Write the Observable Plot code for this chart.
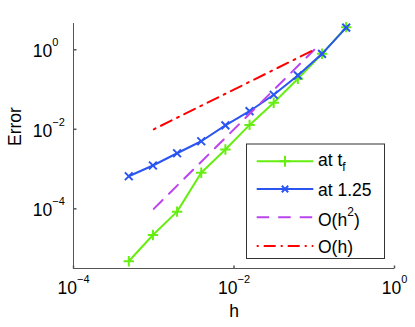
<!DOCTYPE html>
<html><head><meta charset="utf-8">
<script src="https://cdn.jsdelivr.net/npm/d3@7"></script>
<script src="https://cdn.jsdelivr.net/npm/@observablehq/plot@0.6"></script>
<style>
body{margin:0;background:#fff;}
#wrap{position:relative;width:415px;height:327px;font-family:"Liberation Sans",Arial,Helvetica,sans-serif;}
#wrap svg{display:block;}
#legend{position:absolute;left:0;top:0;pointer-events:none;}
</style></head><body><div id="wrap"></div>
<script>
// ---- data ----
const hValues = [0.25, 0.125, 0.0625, 0.03125, 0.015625, 0.0078125, 0.00390625, 0.001953125, 0.0009765625, 0.00048828125];
const errAtTf = [3.7, 0.79, 0.186, 0.0465, 0.0129, 0.0031, 8.1e-4, 8.5e-5, 2.2e-5, 4.8e-6];
const errAt125 = [3.6, 0.79, 0.226, 0.0738, 0.0285, 0.0125, 0.0050, 0.0025, 0.00123, 6.6e-4];
const refH = [1e-3, 1e-1];
const refOh2 = [1e-4, 1];
const refOh = [1e-2, 1];
const xTicks = [1e-4, 1e-2, 1];
const yTicks = [1e-4, 1e-2, 1];
const xLabel = "h";
const yLabel = "Error";
const seriesLabels = ["at t_f", "at 1.25", "O(h^2)", "O(h)"];
const colors = ["#66ee11", "#2a55f0", "#bb44ee", "#ff0000"];

const xDomain = [1e-4, 1];
const yDomain = [Math.pow(10, -5.5), Math.pow(10, 0.66)];
const axisColor = "#555";
const FS = 17.5;

const tfData = hValues.map((h, i) => ({h, e: errAtTf[i]}));
const t125Data = hValues.map((h, i) => ({h, e: errAt125[i]}));
const oh2Data = refH.map((h, i) => ({h, e: refOh2[i]}));
const ohData = refH.map((h, i) => ({h, e: refOh[i]}));

const plusSym = {draw(ctx, size){const r=Math.sqrt(size/Math.PI); ctx.moveTo(-r,0);ctx.lineTo(r,0);ctx.moveTo(0,-r);ctx.lineTo(0,r);}};
const timesSym = {draw(ctx, size){const r=Math.sqrt(size/Math.PI)*0.7071; ctx.moveTo(-r,-r);ctx.lineTo(r,r);ctx.moveTo(-r,r);ctx.lineTo(r,-r);}};
const tickRight = {draw(ctx){ctx.moveTo(0,0);ctx.lineTo(3,0);}};
const tickUp = {draw(ctx){ctx.moveTo(0,0);ctx.lineTo(0,-3);}};

const expText = d => "10^" + String(Math.round(Math.log10(d))).replace("-", "\u2212");

const svg = Plot.plot({
  width: 415, height: 327,
  marginLeft: 73, marginRight: 21, marginTop: 23, marginBottom: 59,
  x: {type: "log", domain: xDomain, axis: null},
  y: {type: "log", domain: yDomain, axis: null},
  style: {fontFamily: '"Liberation Sans", Arial, Helvetica, sans-serif', background: "white", overflow: "visible"},
  marks: [
    Plot.ruleX([xDomain[0]], {stroke: axisColor, strokeWidth: 1}),
    Plot.ruleY([yDomain[0]], {stroke: axisColor, strokeWidth: 1}),
    Plot.dot(yTicks, {y: d => d, frameAnchor: "left", symbol: tickRight, stroke: axisColor, fill: "none"}),
    Plot.dot(xTicks, {x: d => d, frameAnchor: "bottom", symbol: tickUp, stroke: axisColor, fill: "none"}),
    Plot.line(tfData, {x: "h", y: "e", stroke: colors[0], strokeWidth: 2}),
    Plot.dot(tfData, {x: "h", y: "e", symbol: plusSym, r: 5.2, stroke: colors[0], strokeWidth: 2, fill: "none"}),
    Plot.line(t125Data, {x: "h", y: "e", stroke: colors[1], strokeWidth: 2}),
    Plot.dot(t125Data, {x: "h", y: "e", symbol: timesSym, r: 5.5, stroke: colors[1], strokeWidth: 2, fill: "none"}),
    Plot.line(oh2Data, {x: "h", y: "e", stroke: colors[2], strokeWidth: 2, strokeDasharray: "12.5,9"}),
    Plot.line(ohData, {x: "h", y: "e", stroke: colors[3], strokeWidth: 2, strokeDasharray: "2,6,12,6"}),
    Plot.text(xTicks, {x: d => d, frameAnchor: "bottom", text: expText, fontSize: FS, dy: 25, fill: "#000"}),
    Plot.text(yTicks, {y: d => d, frameAnchor: "left", text: expText, fontSize: FS, textAnchor: "start", dx: -40.7, dy: 1.7, fill: "#000"}),
    Plot.text([xLabel], {frameAnchor: "bottom", text: d => d, fontSize: FS, dy: 48.4, fill: "#000"}),
    Plot.text([yLabel], {frameAnchor: "left", text: d => d, fontSize: FS, rotate: -90, dx: -58, fill: "#000"})
  ]
});

// superscripts in tick labels
d3.select(svg).selectAll("text").each(function() {
  const s = this.textContent;
  if (s.includes("^")) {
    const [base, exp] = s.split("^");
    this.textContent = base;
    d3.select(this).append("tspan").attr("dy", -10.7).attr("font-size", 11).text(exp);
  }
});

const wrap = document.getElementById("wrap");
wrap.appendChild(svg);

// ---- legend overlay ----
const lg = d3.select(wrap).append("svg").attr("id", "legend").attr("width", 415).attr("height", 327)
  .attr("font-family", '"Liberation Sans", Arial, Helvetica, sans-serif').attr("font-size", FS);
lg.append("rect").attr("x", 246.5).attr("y", 144).attr("width", 138).attr("height", 114.5)
  .attr("fill", "white").attr("stroke", "#333").attr("stroke-width", 1);
const rowsY = [161.3, 189, 217.3, 246];
const dashes = [null, null, "12.5,9", "2,5,12,5"];
const baseOff = [4.5, 6.5, 8.5, 6.5];
const x0 = 256.7, x1 = 313.3, xm = (x0 + x1) / 2, xt = 318;
seriesLabels.forEach((lab, i) => {
  const y = rowsY[i];
  const ln = lg.append("line").attr("x1", x0).attr("x2", x1).attr("y1", y).attr("y2", y)
    .attr("stroke", colors[i]).attr("stroke-width", 2);
  if (dashes[i]) ln.attr("stroke-dasharray", dashes[i]);
  if (i === 0) {
    lg.append("path").attr("d", `M${xm-5.5},${y}H${xm+5.5}M${xm},${y-5.5}V${y+5.5}`).attr("stroke", colors[i]).attr("stroke-width", 2).attr("fill", "none");
  } else if (i === 1) {
    const r = 3.2;
    lg.append("path").attr("d", `M${xm-r},${y-r}L${xm+r},${y+r}M${xm-r},${y+r}L${xm+r},${y-r}`).attr("stroke", colors[i]).attr("stroke-width", 2).attr("fill", "none");
  }
  const t = lg.append("text").attr("x", xt).attr("y", y + baseOff[i]).attr("fill", "#000");
  if (lab.includes("_")) {
    const [a, b] = lab.split("_");
    t.append("tspan").text(a);
    t.append("tspan").attr("dy", 5.5).attr("font-size", 12).text(b);
  } else if (lab.includes("^")) {
    const [a, rest] = lab.split("^");
    const sup = rest.replace(")", "");
    t.append("tspan").text(a);
    t.append("tspan").attr("dy", -9.5).attr("font-size", 12).text(sup);
    t.append("tspan").attr("dy", 9.5).text(")");
  } else {
    t.text(lab);
  }
});
</script>
</body></html>
